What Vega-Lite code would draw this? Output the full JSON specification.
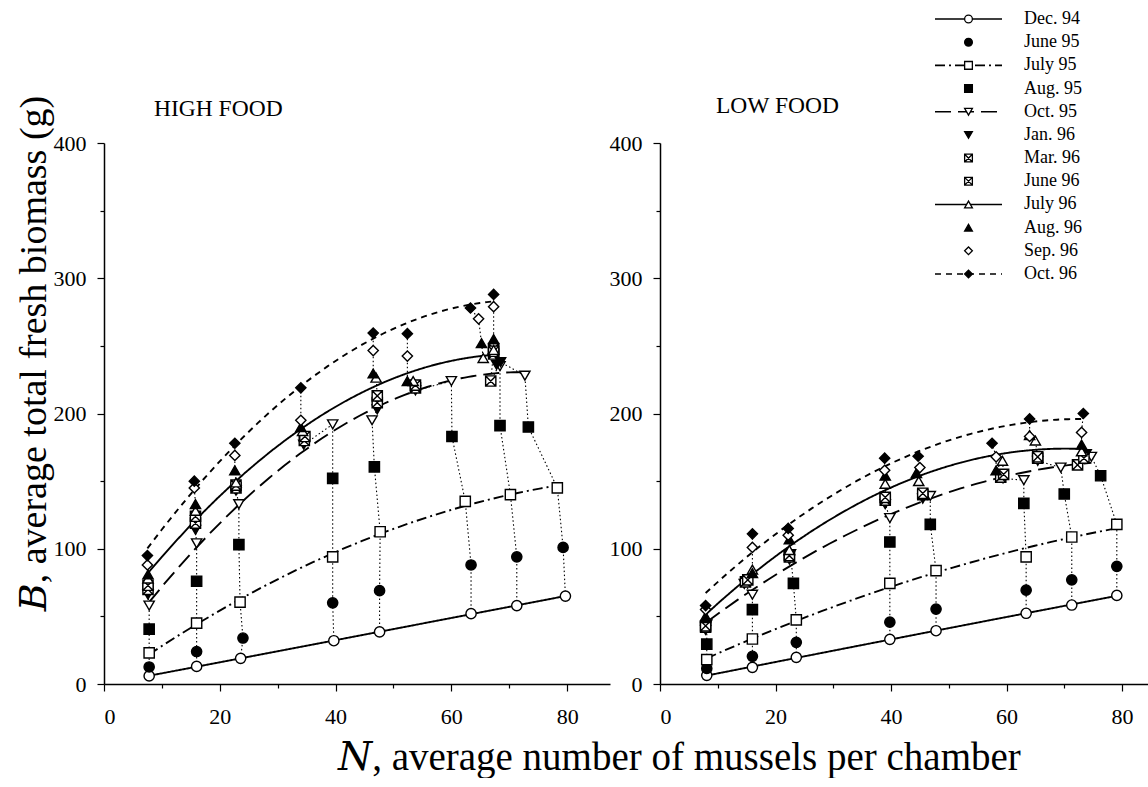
{
"$schema": "https://vega.github.io/schema/vega-lite/v6.json",
"padding": {"left": 14, "top": 10, "right": 0, "bottom": 0},
"background": "white",
"bounds": "flush",
"spacing": 50,
"config": {
  "view": {"stroke": null},
  "axis": {"grid": false, "domainColor": "black", "domainWidth": 1.5, "tickColor": "black", "tickSize": 7, "tickWidth": 1.2, "labelFont": "Liberation Serif", "labelFontSize": 22, "labelColor": "black", "titleFont": "Liberation Serif, DejaVu Serif", "titleColor": "black", "titleFontWeight": "normal", "titleFontSize": 38, "labelPadding": 11},
  "axisX": {"labelPadding": 15},
  "title": {"font": "Liberation Serif, DejaVu Serif", "fontWeight": "normal", "color": "black"}
},
"title": {"text": "𝑁, average number of mussels per chamber", "orient": "bottom", "anchor": "start", "frame": "bounds", "dx": 323, "offset": 12, "fontSize": 39},
"datasets": {
"leg": [
{"date":"Dec. 94","row":0},{"date":"June 95","row":1},{"date":"July 95","row":2},{"date":"Aug. 95","row":3},{"date":"Oct. 95","row":4},{"date":"Jan. 96","row":5},{"date":"Mar. 96","row":6},{"date":"June 96","row":7},{"date":"July 96","row":8},{"date":"Aug. 96","row":9},{"date":"Sep. 96","row":10},{"date":"Oct. 96","row":11}
],
"obs": [
{"panel":"H","chamber":1,"t":0,"date":"Dec. 94","N":7.8,"B":6},
{"panel":"H","chamber":1,"t":1,"date":"June 95","N":7.8,"B":12.6},
{"panel":"H","chamber":1,"t":2,"date":"July 95","N":7.8,"B":23},
{"panel":"H","chamber":1,"t":3,"date":"Aug. 95","N":7.8,"B":40.6},
{"panel":"H","chamber":1,"t":4,"date":"Oct. 95","N":7.8,"B":58},
{"panel":"H","chamber":1,"t":5,"date":"Jan. 96","N":7.6,"B":66},
{"panel":"H","chamber":1,"t":6,"date":"Mar. 96","N":7.6,"B":70},
{"panel":"H","chamber":1,"t":7,"date":"June 96","N":7.6,"B":73},
{"panel":"H","chamber":1,"t":8,"date":"July 96","N":7.6,"B":78},
{"panel":"H","chamber":1,"t":9,"date":"Aug. 96","N":7.6,"B":81},
{"panel":"H","chamber":1,"t":10,"date":"Sep. 96","N":7.5,"B":88},
{"panel":"H","chamber":1,"t":11,"date":"Oct. 96","N":7.5,"B":95},
{"panel":"H","chamber":2,"t":0,"date":"Dec. 94","N":16,"B":13},
{"panel":"H","chamber":2,"t":1,"date":"June 95","N":16,"B":24},
{"panel":"H","chamber":2,"t":2,"date":"July 95","N":16,"B":45},
{"panel":"H","chamber":2,"t":3,"date":"Aug. 95","N":16,"B":76},
{"panel":"H","chamber":2,"t":4,"date":"Oct. 95","N":16,"B":104},
{"panel":"H","chamber":2,"t":5,"date":"Jan. 96","N":15.8,"B":114},
{"panel":"H","chamber":2,"t":6,"date":"Mar. 96","N":15.8,"B":119},
{"panel":"H","chamber":2,"t":7,"date":"June 96","N":15.8,"B":124},
{"panel":"H","chamber":2,"t":8,"date":"July 96","N":15.8,"B":128},
{"panel":"H","chamber":2,"t":9,"date":"Aug. 96","N":15.8,"B":133},
{"panel":"H","chamber":2,"t":10,"date":"Sep. 96","N":15.6,"B":145},
{"panel":"H","chamber":2,"t":11,"date":"Oct. 96","N":15.6,"B":150},
{"panel":"H","chamber":3,"t":0,"date":"Dec. 94","N":23.6,"B":19},
{"panel":"H","chamber":3,"t":1,"date":"June 95","N":24,"B":34},
{"panel":"H","chamber":3,"t":2,"date":"July 95","N":23.5,"B":60.5},
{"panel":"H","chamber":3,"t":3,"date":"Aug. 95","N":23.3,"B":103},
{"panel":"H","chamber":3,"t":4,"date":"Oct. 95","N":23.3,"B":133},
{"panel":"H","chamber":3,"t":5,"date":"Jan. 96","N":22.8,"B":143},
{"panel":"H","chamber":3,"t":6,"date":"Mar. 96","N":22.8,"B":145},
{"panel":"H","chamber":3,"t":7,"date":"June 96","N":22.8,"B":147},
{"panel":"H","chamber":3,"t":8,"date":"July 96","N":22.8,"B":149},
{"panel":"H","chamber":3,"t":9,"date":"Aug. 96","N":22.6,"B":158},
{"panel":"H","chamber":3,"t":10,"date":"Sep. 96","N":22.6,"B":169},
{"panel":"H","chamber":3,"t":11,"date":"Oct. 96","N":22.6,"B":178},
{"panel":"H","chamber":4,"t":0,"date":"Dec. 94","N":39.7,"B":32},
{"panel":"H","chamber":4,"t":1,"date":"June 95","N":39.5,"B":60},
{"panel":"H","chamber":4,"t":2,"date":"July 95","N":39.5,"B":94},
{"panel":"H","chamber":4,"t":3,"date":"Aug. 95","N":39.5,"B":152},
{"panel":"H","chamber":4,"t":4,"date":"Oct. 95","N":39.5,"B":192},
{"panel":"H","chamber":4,"t":5,"date":"Jan. 96","N":34.5,"B":177},
{"panel":"H","chamber":4,"t":6,"date":"Mar. 96","N":34.6,"B":180},
{"panel":"H","chamber":4,"t":7,"date":"June 96","N":34.7,"B":183},
{"panel":"H","chamber":4,"t":8,"date":"July 96","N":34.3,"B":187},
{"panel":"H","chamber":4,"t":9,"date":"Aug. 96","N":34,"B":190},
{"panel":"H","chamber":4,"t":10,"date":"Sep. 96","N":34,"B":195},
{"panel":"H","chamber":4,"t":11,"date":"Oct. 96","N":34,"B":219},
{"panel":"H","chamber":5,"t":0,"date":"Dec. 94","N":47.6,"B":38.5},
{"panel":"H","chamber":5,"t":1,"date":"June 95","N":47.6,"B":69},
{"panel":"H","chamber":5,"t":2,"date":"July 95","N":47.7,"B":112.6},
{"panel":"H","chamber":5,"t":3,"date":"Aug. 95","N":46.7,"B":160.5},
{"panel":"H","chamber":5,"t":4,"date":"Oct. 95","N":46.3,"B":195},
{"panel":"H","chamber":5,"t":5,"date":"Jan. 96","N":47.2,"B":203},
{"panel":"H","chamber":5,"t":6,"date":"Mar. 96","N":47.2,"B":208},
{"panel":"H","chamber":5,"t":7,"date":"June 96","N":47.2,"B":213},
{"panel":"H","chamber":5,"t":8,"date":"July 96","N":47,"B":226.5},
{"panel":"H","chamber":5,"t":9,"date":"Aug. 96","N":46.5,"B":229.6},
{"panel":"H","chamber":5,"t":10,"date":"Sep. 96","N":46.5,"B":246.5},
{"panel":"H","chamber":5,"t":11,"date":"Oct. 96","N":46.5,"B":259.5},
{"panel":"H","chamber":6,"t":0,"date":"Dec. 94","N":63.4,"B":52},
{"panel":"H","chamber":6,"t":1,"date":"June 95","N":63.4,"B":88},
{"panel":"H","chamber":6,"t":2,"date":"July 95","N":62.4,"B":135},
{"panel":"H","chamber":6,"t":3,"date":"Aug. 95","N":60.1,"B":183},
{"panel":"H","chamber":6,"t":4,"date":"Oct. 95","N":60,"B":224},
{"panel":"H","chamber":6,"t":5,"date":"Jan. 96","N":53.8,"B":217},
{"panel":"H","chamber":6,"t":6,"date":"Mar. 96","N":53.8,"B":219},
{"panel":"H","chamber":6,"t":7,"date":"June 96","N":53.8,"B":221},
{"panel":"H","chamber":6,"t":8,"date":"July 96","N":53.4,"B":224},
{"panel":"H","chamber":6,"t":9,"date":"Aug. 96","N":52.4,"B":224},
{"panel":"H","chamber":6,"t":10,"date":"Sep. 96","N":52.4,"B":242.5},
{"panel":"H","chamber":6,"t":11,"date":"Oct. 96","N":52.4,"B":259},
{"panel":"H","chamber":7,"t":0,"date":"Dec. 94","N":71.3,"B":58},
{"panel":"H","chamber":7,"t":1,"date":"June 95","N":71.3,"B":94},
{"panel":"H","chamber":7,"t":2,"date":"July 95","N":70.2,"B":140},
{"panel":"H","chamber":7,"t":3,"date":"Aug. 95","N":68.4,"B":191},
{"panel":"H","chamber":7,"t":4,"date":"Oct. 95","N":68.4,"B":235},
{"panel":"H","chamber":7,"t":5,"date":"Jan. 96","N":67.8,"B":236},
{"panel":"H","chamber":7,"t":6,"date":"Mar. 96","N":67.3,"B":244},
{"panel":"H","chamber":7,"t":7,"date":"June 96","N":67.3,"B":248},
{"panel":"H","chamber":7,"t":8,"date":"July 96","N":65.5,"B":241},
{"panel":"H","chamber":7,"t":9,"date":"Aug. 96","N":65.2,"B":252},
{"panel":"H","chamber":7,"t":10,"date":"Sep. 96","N":64.7,"B":270},
{"panel":"H","chamber":7,"t":11,"date":"Oct. 96","N":63.3,"B":278},
{"panel":"H","chamber":8,"t":0,"date":"Dec. 94","N":79.7,"B":65},
{"panel":"H","chamber":8,"t":1,"date":"June 95","N":79.3,"B":101},
{"panel":"H","chamber":8,"t":2,"date":"July 95","N":78.3,"B":145},
{"panel":"H","chamber":8,"t":3,"date":"Aug. 95","N":73.3,"B":190},
{"panel":"H","chamber":8,"t":4,"date":"Oct. 95","N":72.7,"B":228},
{"panel":"H","chamber":8,"t":5,"date":"Jan. 96","N":68.5,"B":238},
{"panel":"H","chamber":8,"t":6,"date":"Mar. 96","N":66.8,"B":224},
{"panel":"H","chamber":8,"t":7,"date":"June 96","N":67.3,"B":246},
{"panel":"H","chamber":8,"t":8,"date":"July 96","N":67.3,"B":247},
{"panel":"H","chamber":8,"t":9,"date":"Aug. 96","N":67.3,"B":255},
{"panel":"H","chamber":8,"t":10,"date":"Sep. 96","N":67.3,"B":279},
{"panel":"H","chamber":8,"t":11,"date":"Oct. 96","N":67.3,"B":288},
{"panel":"L","chamber":1,"t":0,"date":"Dec. 94","N":8.1,"B":6.4},
{"panel":"L","chamber":1,"t":1,"date":"June 95","N":8.1,"B":11.5},
{"panel":"L","chamber":1,"t":2,"date":"July 95","N":8.1,"B":18},
{"panel":"L","chamber":1,"t":3,"date":"Aug. 95","N":8.1,"B":29.5},
{"panel":"L","chamber":1,"t":4,"date":"Oct. 95","N":8.1,"B":44},
{"panel":"L","chamber":1,"t":5,"date":"Jan. 96","N":7.9,"B":40},
{"panel":"L","chamber":1,"t":6,"date":"Mar. 96","N":7.9,"B":42},
{"panel":"L","chamber":1,"t":7,"date":"June 96","N":7.9,"B":43},
{"panel":"L","chamber":1,"t":8,"date":"July 96","N":7.9,"B":50},
{"panel":"L","chamber":1,"t":9,"date":"Aug. 96","N":7.9,"B":48.7},
{"panel":"L","chamber":1,"t":10,"date":"Sep. 96","N":7.9,"B":55},
{"panel":"L","chamber":1,"t":11,"date":"Oct. 96","N":7.9,"B":58},
{"panel":"L","chamber":2,"t":0,"date":"Dec. 94","N":16,"B":12.3},
{"panel":"L","chamber":2,"t":1,"date":"June 95","N":16,"B":20.5},
{"panel":"L","chamber":2,"t":2,"date":"July 95","N":16,"B":33.3},
{"panel":"L","chamber":2,"t":3,"date":"Aug. 95","N":16,"B":55},
{"panel":"L","chamber":2,"t":4,"date":"Oct. 95","N":16,"B":66},
{"panel":"L","chamber":2,"t":5,"date":"Jan. 96","N":14.6,"B":74},
{"panel":"L","chamber":2,"t":6,"date":"Mar. 96","N":14.8,"B":75.5},
{"panel":"L","chamber":2,"t":7,"date":"June 96","N":15.2,"B":77},
{"panel":"L","chamber":2,"t":8,"date":"July 96","N":16,"B":84.6},
{"panel":"L","chamber":2,"t":9,"date":"Aug. 96","N":16,"B":82},
{"panel":"L","chamber":2,"t":10,"date":"Sep. 96","N":16,"B":101},
{"panel":"L","chamber":2,"t":11,"date":"Oct. 96","N":16,"B":111},
{"panel":"L","chamber":3,"t":0,"date":"Dec. 94","N":23.6,"B":19.7},
{"panel":"L","chamber":3,"t":1,"date":"June 95","N":23.6,"B":30.8},
{"panel":"L","chamber":3,"t":2,"date":"July 95","N":23.6,"B":47.4},
{"panel":"L","chamber":3,"t":3,"date":"Aug. 95","N":23.1,"B":74.4},
{"panel":"L","chamber":3,"t":4,"date":"Oct. 95","N":22.6,"B":96},
{"panel":"L","chamber":3,"t":5,"date":"Jan. 96","N":22.4,"B":92},
{"panel":"L","chamber":3,"t":6,"date":"Mar. 96","N":22.4,"B":94},
{"panel":"L","chamber":3,"t":7,"date":"June 96","N":22.4,"B":95},
{"panel":"L","chamber":3,"t":8,"date":"July 96","N":22.4,"B":99},
{"panel":"L","chamber":3,"t":9,"date":"Aug. 96","N":22.4,"B":107},
{"panel":"L","chamber":3,"t":10,"date":"Sep. 96","N":22.2,"B":110},
{"panel":"L","chamber":3,"t":11,"date":"Oct. 96","N":22.2,"B":115},
{"panel":"L","chamber":4,"t":0,"date":"Dec. 94","N":39.8,"B":33},
{"panel":"L","chamber":4,"t":1,"date":"June 95","N":39.8,"B":45.7},
{"panel":"L","chamber":4,"t":2,"date":"July 95","N":39.8,"B":74.4},
{"panel":"L","chamber":4,"t":3,"date":"Aug. 95","N":39.8,"B":105},
{"panel":"L","chamber":4,"t":4,"date":"Oct. 95","N":39.8,"B":122.7},
{"panel":"L","chamber":4,"t":5,"date":"Jan. 96","N":39,"B":133},
{"panel":"L","chamber":4,"t":6,"date":"Mar. 96","N":39,"B":136},
{"panel":"L","chamber":4,"t":7,"date":"June 96","N":39,"B":138},
{"panel":"L","chamber":4,"t":8,"date":"July 96","N":39,"B":148},
{"panel":"L","chamber":4,"t":9,"date":"Aug. 96","N":39,"B":154},
{"panel":"L","chamber":4,"t":10,"date":"Sep. 96","N":38.9,"B":158},
{"panel":"L","chamber":4,"t":11,"date":"Oct. 96","N":38.9,"B":167},
{"panel":"L","chamber":5,"t":0,"date":"Dec. 94","N":47.8,"B":39.4},
{"panel":"L","chamber":5,"t":1,"date":"June 95","N":47.8,"B":55.4},
{"panel":"L","chamber":5,"t":2,"date":"July 95","N":47.8,"B":83.8},
{"panel":"L","chamber":5,"t":3,"date":"Aug. 95","N":46.8,"B":118},
{"panel":"L","chamber":5,"t":4,"date":"Oct. 95","N":46.8,"B":139},
{"panel":"L","chamber":5,"t":5,"date":"Jan. 96","N":45.5,"B":137},
{"panel":"L","chamber":5,"t":6,"date":"Mar. 96","N":45.5,"B":140},
{"panel":"L","chamber":5,"t":7,"date":"June 96","N":45.5,"B":141},
{"panel":"L","chamber":5,"t":8,"date":"July 96","N":44.8,"B":150},
{"panel":"L","chamber":5,"t":9,"date":"Aug. 96","N":44.4,"B":156},
{"panel":"L","chamber":5,"t":10,"date":"Sep. 96","N":45,"B":160},
{"panel":"L","chamber":5,"t":11,"date":"Oct. 96","N":44.7,"B":168.4},
{"panel":"L","chamber":6,"t":0,"date":"Dec. 94","N":63.4,"B":52.3},
{"panel":"L","chamber":6,"t":1,"date":"June 95","N":63.4,"B":69.4},
{"panel":"L","chamber":6,"t":2,"date":"July 95","N":63.4,"B":94},
{"panel":"L","chamber":6,"t":3,"date":"Aug. 95","N":63,"B":133.6},
{"panel":"L","chamber":6,"t":4,"date":"Oct. 95","N":63,"B":150.7},
{"panel":"L","chamber":6,"t":5,"date":"Jan. 96","N":59.4,"B":152},
{"panel":"L","chamber":6,"t":6,"date":"Mar. 96","N":59,"B":153},
{"panel":"L","chamber":6,"t":7,"date":"June 96","N":59.5,"B":155},
{"panel":"L","chamber":6,"t":8,"date":"July 96","N":59.3,"B":165},
{"panel":"L","chamber":6,"t":9,"date":"Aug. 96","N":58.2,"B":158},
{"panel":"L","chamber":6,"t":10,"date":"Sep. 96","N":58.2,"B":168},
{"panel":"L","chamber":6,"t":11,"date":"Oct. 96","N":57.5,"B":178},
{"panel":"L","chamber":7,"t":0,"date":"Dec. 94","N":71.3,"B":58.4},
{"panel":"L","chamber":7,"t":1,"date":"June 95","N":71.3,"B":77},
{"panel":"L","chamber":7,"t":2,"date":"July 95","N":71.3,"B":108.7},
{"panel":"L","chamber":7,"t":3,"date":"Aug. 95","N":70,"B":140.5},
{"panel":"L","chamber":7,"t":4,"date":"Oct. 95","N":69.4,"B":160},
{"panel":"L","chamber":7,"t":5,"date":"Jan. 96","N":65.4,"B":165},
{"panel":"L","chamber":7,"t":6,"date":"Mar. 96","N":65.4,"B":167},
{"panel":"L","chamber":7,"t":7,"date":"June 96","N":65.4,"B":168},
{"panel":"L","chamber":7,"t":8,"date":"July 96","N":65,"B":180},
{"panel":"L","chamber":7,"t":9,"date":"Aug. 96","N":64,"B":184},
{"panel":"L","chamber":7,"t":10,"date":"Sep. 96","N":64,"B":183},
{"panel":"L","chamber":7,"t":11,"date":"Oct. 96","N":64,"B":196},
{"panel":"L","chamber":8,"t":0,"date":"Dec. 94","N":79.1,"B":65.5},
{"panel":"L","chamber":8,"t":1,"date":"June 95","N":79.1,"B":87},
{"panel":"L","chamber":8,"t":2,"date":"July 95","N":79.1,"B":118},
{"panel":"L","chamber":8,"t":3,"date":"Aug. 95","N":76.3,"B":154},
{"panel":"L","chamber":8,"t":4,"date":"Oct. 95","N":74.7,"B":168},
{"panel":"L","chamber":8,"t":5,"date":"Jan. 96","N":73.8,"B":170},
{"panel":"L","chamber":8,"t":6,"date":"Mar. 96","N":72.3,"B":162},
{"panel":"L","chamber":8,"t":7,"date":"June 96","N":73.4,"B":167},
{"panel":"L","chamber":8,"t":8,"date":"July 96","N":73,"B":172},
{"panel":"L","chamber":8,"t":9,"date":"Aug. 96","N":73,"B":177},
{"panel":"L","chamber":8,"t":10,"date":"Sep. 96","N":73,"B":186},
{"panel":"L","chamber":8,"t":11,"date":"Oct. 96","N":73.3,"B":200}
]
},
"hconcat": [
{
  "width": 506, "height": 541,
  "title": {"text": "HIGH FOOD", "anchor": "start", "frame": "group", "dx": 50, "offset": 0, "dy": 44, "fontSize": 23.5, "baseline": "alphabetic"},
  "data": {"name": "obs"},
  "transform": [{"filter": "datum.panel == 'H'"}],
  "layer": [
    {"mark": {"type": "line", "color": "black", "strokeWidth": 1.1, "strokeDash": [1.5, 2.5]},
     "encoding": {
       "x": {"field": "N", "type": "quantitative", "scale": {"domain": [0, 87.4], "nice": false, "zero": false}, "axis": {"values": [10, 30, 50, 70], "labels": false, "domain": false, "tickSize": 4, "title": null, "orient": "bottom"}},
       "y": {"field": "B", "type": "quantitative", "scale": {"domain": [0, 400], "nice": false}, "axis": {"values": [50, 150, 250, 350], "labels": false, "domain": false, "tickSize": 4, "title": null, "orient": "left"}},
       "detail": {"field": "chamber", "type": "nominal"}, "order": {"field": "t", "type": "quantitative"}}},
    {"encoding": {
       "x": {"field": "N", "type": "quantitative", "scale": {"domain": [0, 87.4], "nice": false, "zero": false}, "axis": {"values": [0, 20, 40, 60, 80], "title": null, "orient": "bottom"}},
       "y": {"field": "B", "type": "quantitative", "scale": {"domain": [0, 400], "nice": false}, "axis": {"values": [0, 100, 200, 300, 400], "title": "𝐵, average total fresh biomass (g)", "titleY": 210, "titlePadding": 0, "orient": "left"}}},
     "layer": [
      {"transform": [{"filter": {"field": "date", "oneOf": ["Dec. 94", "July 95", "Oct. 95", "July 96", "Oct. 96"]}}, {"regression": "B", "on": "N", "groupby": ["date"], "method": "poly", "order": 2}],
       "mark": {"type": "line", "color": "black", "strokeWidth": 1.9},
       "encoding": {"strokeDash": {"field": "date", "type": "nominal", "scale": {"domain": ["Dec. 94", "July 95", "Oct. 95", "July 96", "Oct. 96"], "range": [[1, 0], [10, 4, 2, 4], [16, 7], [1, 0], [6, 5]]}, "legend": null}}},
      {"mark": {"type": "point", "stroke": "black", "strokeWidth": 1.4, "opacity": 1, "fillOpacity": 1, "size": 105},
       "encoding": {
         "shape": {"field": "date", "type": "nominal", "scale": {"domain": ["Dec. 94","June 95","July 95","Aug. 95","Oct. 95","Jan. 96","Mar. 96","June 96","July 96","Aug. 96","Sep. 96","Oct. 96"], "range": ["circle","circle","square","square","triangle-down","triangle-down","M-1,-1L1,-1L1,1L-1,1Z M-1,-1L1,1 M1,-1L-1,1","M-1,-1L1,-1L1,1L-1,1Z M-1,-1L1,1 M1,-1L-1,1","triangle-up","triangle-up","diamond","diamond"]}, "legend": null},
         "fill": {"field": "date", "type": "nominal", "scale": {"domain": ["Dec. 94","June 95","July 95","Aug. 95","Oct. 95","Jan. 96","Mar. 96","June 96","July 96","Aug. 96","Sep. 96","Oct. 96"], "range": ["white","black","white","black","white","black","white","white","white","black","white","black"]}, "legend": null}
       }}
     ]}
  ],
  "resolve": {"axis": {"x": "independent", "y": "independent"}}
},
{
  "width": 488, "height": 541,
  "title": {"text": "LOW FOOD", "anchor": "start", "frame": "group", "dx": 56, "offset": 0, "dy": 126, "fontSize": 23.5, "baseline": "alphabetic"},
  "layer": [
    {"data": {"name": "obs"},
     "transform": [{"filter": "datum.panel == 'L'"}],
     "mark": {"type": "line", "color": "black", "strokeWidth": 1.1, "strokeDash": [1.5, 2.5]},
     "encoding": {
       "x": {"field": "N", "type": "quantitative", "scale": {"domain": [0, 84.5], "nice": false, "zero": false}, "axis": {"values": [10, 30, 50, 70], "labels": false, "domain": false, "tickSize": 4, "title": null, "orient": "bottom"}},
       "y": {"field": "B", "type": "quantitative", "scale": {"domain": [0, 400], "nice": false}, "axis": {"values": [50, 150, 250, 350], "labels": false, "domain": false, "tickSize": 4, "title": null, "orient": "left"}},
       "detail": {"field": "chamber", "type": "nominal"}, "order": {"field": "t", "type": "quantitative"}}},
    {"data": {"name": "obs"},
     "transform": [{"filter": "datum.panel == 'L'"}],
     "encoding": {
       "x": {"field": "N", "type": "quantitative", "scale": {"domain": [0, 84.5], "nice": false, "zero": false}, "axis": {"values": [0, 20, 40, 60, 80], "title": null, "orient": "bottom"}},
       "y": {"field": "B", "type": "quantitative", "scale": {"domain": [0, 400], "nice": false}, "axis": {"values": [0, 100, 200, 300, 400], "title": null, "orient": "left"}}},
     "layer": [
      {"transform": [{"filter": {"field": "date", "oneOf": ["Dec. 94", "July 95", "Oct. 95", "July 96", "Oct. 96"]}}, {"regression": "B", "on": "N", "groupby": ["date"], "method": "poly", "order": 2}],
       "mark": {"type": "line", "color": "black", "strokeWidth": 1.9},
       "encoding": {"strokeDash": {"field": "date", "type": "nominal", "scale": {"domain": ["Dec. 94", "July 95", "Oct. 95", "July 96", "Oct. 96"], "range": [[1, 0], [10, 4, 2, 4], [16, 7], [1, 0], [6, 5]]}, "legend": null}}},
      {"mark": {"type": "point", "stroke": "black", "strokeWidth": 1.4, "opacity": 1, "fillOpacity": 1, "size": 105},
       "encoding": {
         "shape": {"field": "date", "type": "nominal", "scale": {"domain": ["Dec. 94","June 95","July 95","Aug. 95","Oct. 95","Jan. 96","Mar. 96","June 96","July 96","Aug. 96","Sep. 96","Oct. 96"], "range": ["circle","circle","square","square","triangle-down","triangle-down","M-1,-1L1,-1L1,1L-1,1Z M-1,-1L1,1 M1,-1L-1,1","M-1,-1L1,-1L1,1L-1,1Z M-1,-1L1,1 M1,-1L-1,1","triangle-up","triangle-up","diamond","diamond"]}, "legend": null},
         "fill": {"field": "date", "type": "nominal", "scale": {"domain": ["Dec. 94","June 95","July 95","Aug. 95","Oct. 95","Jan. 96","Mar. 96","June 96","July 96","Aug. 96","Sep. 96","Oct. 96"], "range": ["white","black","white","black","white","black","white","white","white","black","white","black"]}, "legend": null}
       }}
     ]},
    {"data": {"name": "leg"},
     "encoding": {"y": {"field": "row", "type": "quantitative", "scale": {"domain": [0, 11], "range": [-124, 131], "nice": false, "zero": false}, "axis": null}},
     "layer": [
      {"transform": [{"filter": {"field": "date", "oneOf": ["Dec. 94", "July 95", "Oct. 95", "July 96", "Oct. 96"]}}],
       "mark": {"type": "rule", "color": "black", "strokeWidth": 1.6},
       "encoding": {
         "x": {"datum": 0, "type": "quantitative", "scale": {"domain": [0, 1], "range": [275, 342], "nice": false, "zero": false}, "axis": null},
         "x2": {"datum": 1},
         "strokeDash": {"field": "date", "type": "nominal", "scale": {"domain": ["Dec. 94", "July 95", "Oct. 95", "July 96", "Oct. 96"], "range": [[1, 0], [10, 4, 2, 4], [16, 7], [1, 0], [6, 5]]}, "legend": null}}},
      {"mark": {"type": "point", "stroke": "black", "strokeWidth": 1.3, "opacity": 1, "fillOpacity": 1, "size": 60},
       "encoding": {
         "x": {"datum": 0.5, "type": "quantitative", "scale": {"domain": [0, 1], "range": [275, 342], "nice": false, "zero": false}, "axis": null},
         "shape": {"field": "date", "type": "nominal", "scale": {"domain": ["Dec. 94","June 95","July 95","Aug. 95","Oct. 95","Jan. 96","Mar. 96","June 96","July 96","Aug. 96","Sep. 96","Oct. 96"], "range": ["circle","circle","square","square","triangle-down","triangle-down","M-1,-1L1,-1L1,1L-1,1Z M-1,-1L1,1 M1,-1L-1,1","M-1,-1L1,-1L1,1L-1,1Z M-1,-1L1,1 M1,-1L-1,1","triangle-up","triangle-up","diamond","diamond"]}, "legend": null},
         "fill": {"field": "date", "type": "nominal", "scale": {"domain": ["Dec. 94","June 95","July 95","Aug. 95","Oct. 95","Jan. 96","Mar. 96","June 96","July 96","Aug. 96","Sep. 96","Oct. 96"], "range": ["white","black","white","black","white","black","white","white","white","black","white","black"]}, "legend": null}
       }},
      {"mark": {"type": "text", "align": "left", "baseline": "middle", "font": "Liberation Serif", "fontSize": 18, "color": "black"},
       "encoding": {
         "x": {"datum": 1.33, "type": "quantitative", "scale": {"domain": [0, 1], "range": [275, 342], "nice": false, "zero": false}, "axis": null},
         "text": {"field": "date", "type": "nominal"}}}
     ]}
  ],
  "resolve": {"scale": {"x": "independent", "y": "independent"}, "axis": {"x": "independent", "y": "independent"}}
}
]
}
